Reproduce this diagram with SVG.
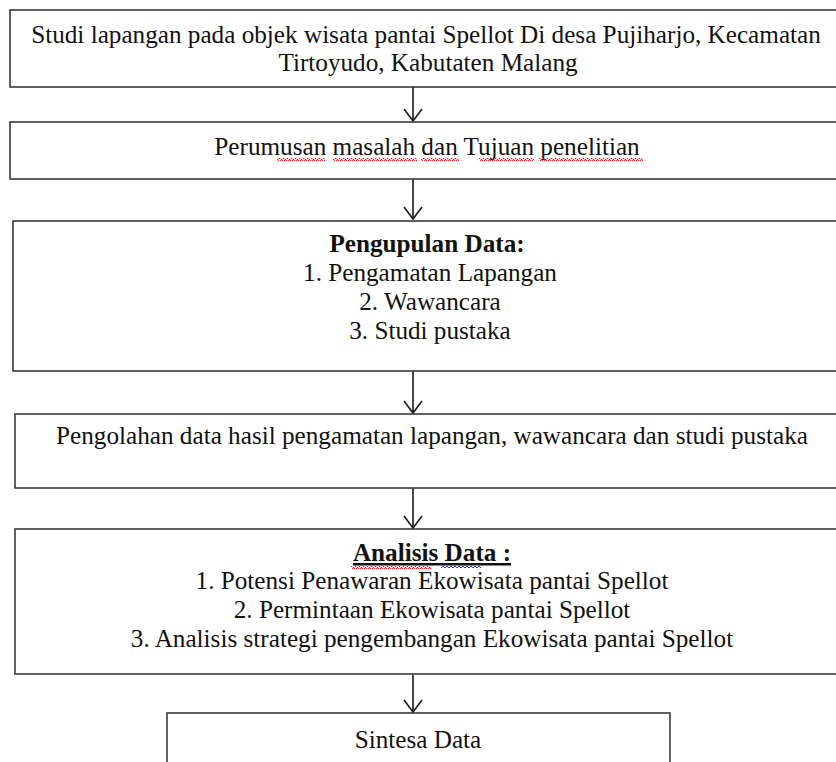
<svg xmlns="http://www.w3.org/2000/svg" width="836" height="762" viewBox="0 0 836 762">
<style>
.box{fill:#fff;stroke:#3a3a3a;stroke-width:1.6}
.t{font-family:"Liberation Serif","Times New Roman",serif;font-size:25.2px;fill:#111;text-anchor:middle}
.b{font-weight:bold}
.conn{stroke:#1a1a1a;stroke-width:1.6;fill:none}
.red{stroke:#e02020;stroke-width:1;fill:none}
.blue{stroke:#2040e0;stroke-width:1;fill:none}
</style>
<defs>
<marker id="v" viewBox="0 0 14 20" refX="13" refY="10" markerWidth="14" markerHeight="20" markerUnits="userSpaceOnUse" orient="auto">
<path d="M1,1 L13,10 L1,19" fill="none" stroke="#1a1a1a" stroke-width="1.6"/>
</marker>
<pattern id="wr" width="4" height="3" patternUnits="userSpaceOnUse"><path d="M0,2.5 L1,0.5 L2,0.5 L3,2.5 L4,2.5" class="red"/></pattern>
</defs>
<rect width="836" height="762" fill="#fff"/>
<g id="connectors">
<line class="conn" x1="413" y1="87" x2="413" y2="121" marker-end="url(#v)"/>
<line class="conn" x1="413" y1="179" x2="413" y2="219" marker-end="url(#v)"/>
<line class="conn" x1="413" y1="371" x2="413" y2="413" marker-end="url(#v)"/>
<line class="conn" x1="413" y1="488" x2="413" y2="528" marker-end="url(#v)"/>
<line class="conn" x1="413" y1="675" x2="413" y2="712" marker-end="url(#v)"/>
</g>
<g id="n1">
<rect class="box" x="10" y="10" width="840" height="77"/>
<text class="t" x="426" y="43">Studi lapangan pada objek wisata pantai Spellot Di desa Pujiharjo, Kecamatan</text>
<text class="t" x="428" y="71">Tirtoyudo, Kabutaten Malang</text>
</g>
<g id="n2">
<rect class="box" x="10" y="122" width="840" height="57"/>
<text class="t" x="427" y="155">Perumusan masalah dan Tujuan penelitian</text>
<rect x="277" y="158" width="48" height="3" fill="url(#wr)"/>
<rect x="333" y="158" width="84" height="3" fill="url(#wr)"/>
<rect x="421" y="158" width="38" height="3" fill="url(#wr)"/>
<rect x="479" y="158" width="55" height="3" fill="url(#wr)"/>
<rect x="539" y="158" width="104" height="3" fill="url(#wr)"/>
</g>
<g id="n3">
<rect class="box" x="13" y="221" width="840" height="150"/>
<text class="t b" x="427" y="252">Pengupulan Data:</text>
<text class="t" x="430" y="281">1. Pengamatan Lapangan</text>
<text class="t" x="430" y="310">2. Wawancara</text>
<text class="t" x="430" y="339">3. Studi pustaka</text>
</g>
<g id="n4">
<rect class="box" x="15" y="414" width="840" height="74"/>
<text class="t" x="432" y="444">Pengolahan data hasil pengamatan lapangan, wawancara dan studi pustaka</text>
</g>
<g id="n5">
<rect class="box" x="15" y="529" width="840" height="145"/>
<text class="t b" x="432" y="561" text-decoration="underline">Analisis Data :</text>
<rect x="351" y="566" width="80" height="3" fill="url(#wr)"/>
<path class="blue" d="M441,568 l2,-2 l2,2 l2,-2 l2,2 l2,-2 l2,2 l2,-2 l2,2 l2,-2 l2,2 l2,-2 l2,2 l2,-2 l2,2 l2,-2 l2,2 l2,-2 l2,2 l2,-2 l2,2"/>
<text class="t" x="432" y="589">1. Potensi Penawaran Ekowisata pantai Spellot</text>
<text class="t" x="432" y="618">2. Permintaan Ekowisata pantai Spellot</text>
<text class="t" x="432" y="647">3. Analisis strategi pengembangan Ekowisata pantai Spellot</text>
</g>
<g id="n6">
<rect class="box" x="167" y="713" width="503" height="80"/>
<text class="t" x="418" y="748">Sintesa Data</text>
</g>
</svg>
